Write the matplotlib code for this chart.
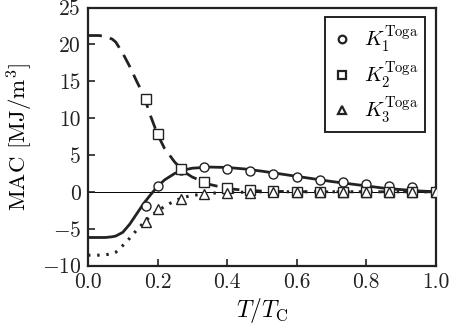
import matplotlib
matplotlib.use("Agg")
import matplotlib.pyplot as plt
import numpy as np

plt.rcParams['font.family'] = 'serif'
plt.rcParams['font.serif'] = ['cmr10']
plt.rcParams['mathtext.fontset'] = 'cm'
plt.rcParams['axes.formatter.use_mathtext'] = True
plt.rcParams['axes.unicode_minus'] = True

# Markers (Toga data)
T_pts = [1/6, 0.2, 4/15, 1/3, 0.4, 7/15, 8/15, 0.6, 2/3, 11/15, 0.8, 13/15, 14/15, 1.0]
K1_pts = [-1.9, 0.8, 2.9, 3.4, 3.15, 2.8, 2.4, 1.95, 1.6, 1.3, 1.0, 0.8, 0.6, 0.1]
K2_pts = [12.6, 7.8, 3.1, 1.35, 0.45, 0.2, 0.1, -0.05, -0.05, -0.05, -0.05, -0.05, -0.05, -0.05]
K3_pts = [-4.05, -2.4, -1.0, -0.3, -0.2, -0.1, -0.05, -0.05, -0.05, -0.05, -0.05, -0.05, -0.05, -0.05]

# Curves
T_c = [0.0, 0.03, 0.05, 0.07, 0.08, 0.1, 0.12, 0.14, 0.16, 0.18, 0.2, 0.22, 0.25, 0.28, 0.3,
       0.35, 0.4, 0.45, 0.5, 0.55, 0.6, 0.65, 0.7, 0.75, 0.8, 0.85, 0.9, 0.95, 1.0]
K1_c = [-6.2, -6.2, -6.2, -6.1, -6.0, -5.5, -4.4, -3.0, -1.6, -0.4, 0.7, 1.6, 2.5, 3.0, 3.2,
        3.35, 3.3, 3.1, 2.8, 2.45, 2.1, 1.75, 1.4, 1.1, 0.8, 0.5, 0.3, 0.12, 0.0]
K2_c = [21.2, 21.2, 21.1, 20.7, 20.3, 18.8, 17.0, 15.0, 13.1, 10.3, 7.8, 5.9, 4.0, 2.6, 2.0,
        1.0, 0.45, 0.2, 0.1, 0.05, 0.02, 0.0, 0.0, 0.0, 0.0, 0.0, 0.0, 0.0, 0.0]
K3_c = [-8.6, -8.6, -8.55, -8.4, -8.2, -7.3, -6.3, -5.2, -4.2, -3.3, -2.6, -2.0, -1.2, -0.7, -0.5,
        -0.2, -0.1, -0.05, 0.0, 0.0, 0.0, 0.0, 0.0, 0.0, 0.0, 0.0, 0.0, 0.0, 0.0]

fig = plt.figure(figsize=(4.5, 3.32), dpi=100)
ax = fig.add_axes([88/450, 1-265.5/332, (435.5-88)/450, (265.5-7.5)/332])

ax.axhline(0, color='black', lw=0.7, zorder=1)
ax.plot(T_c, K1_c, '-', color='#222222', lw=2.0, zorder=2)
ax.plot(T_c, K2_c, '--', color='#222222', lw=2.0, dashes=(5, 3), zorder=2)
ax.plot(T_c, K3_c, ':', color='#222222', lw=2.2, dashes=(0.8, 2.2), zorder=2)

ms = 6.5
ax.plot(T_pts, K1_pts, 'o', mfc='white', mec='#222222', mew=1.0, ms=ms, ls='none', zorder=3,
        label=r'$K_1^{\mathrm{Toga}}$')
ax.plot(T_pts, K2_pts, 's', mfc='white', mec='#222222', mew=1.0, ms=ms, ls='none', zorder=3,
        label=r'$K_2^{\mathrm{Toga}}$')
ax.plot(T_pts, K3_pts, '^', mfc='white', mec='#222222', mew=1.0, ms=ms, ls='none', zorder=3,
        label=r'$K_3^{\mathrm{Toga}}$')

ax.set_xlim(0, 1)
ax.set_ylim(-10, 25)
ax.set_xticks([0, 0.2, 0.4, 0.6, 0.8, 1.0])
ax.set_xticklabels(['0.0', '0.2', '0.4', '0.6', '0.8', '1.0'])
ax.set_yticks([-10, -5, 0, 5, 10, 15, 20, 25])
ax.set_yticklabels(['$-10$', '$-5$', '0', '5', '10', '15', '20', '25'])
ax.tick_params(direction='in', length=5, width=1.2, labelsize=15.5, colors='#222222', pad=5)
for s in ax.spines.values():
    s.set_linewidth(1.6)
    s.set_color('#222222')

ax.set_xlabel(r'$T/T_{\mathrm{C}}$', fontsize=17, labelpad=3)
ax.set_ylabel(r'MAC [MJ/m$^3$]', fontsize=16.5, labelpad=5)

leg = ax.legend(loc='upper right', fontsize=15, frameon=True, fancybox=False,
                edgecolor='#222222', framealpha=1, handlelength=1.0, handletextpad=0.6,
                borderpad=0.3, labelspacing=0.2, borderaxespad=0,
                bbox_to_anchor=(0.97, 0.962))
leg.get_frame().set_linewidth(1.4)
for h in leg.legend_handles:
    h.set_markersize(5.5)
    h.set_markeredgewidth(1.6)

fig.savefig('out.png', dpi=100)
